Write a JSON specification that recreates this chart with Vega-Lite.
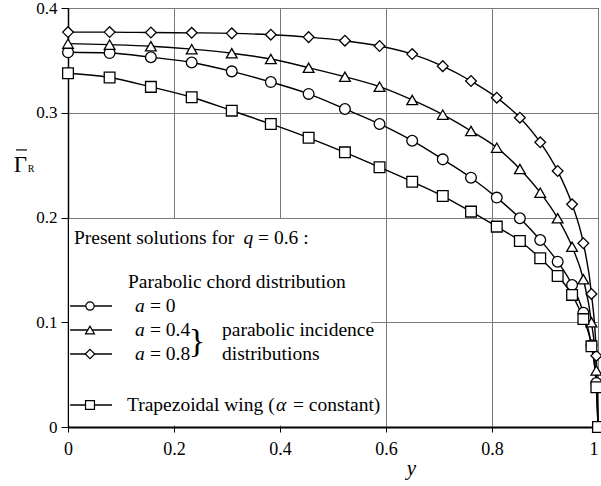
{
  "$schema": "https://vega.github.io/schema/vega-lite/v6.json",
  "width": 530,
  "height": 419,
  "autosize": {"type": "none"},
  "padding": {"left": 68, "top": 8, "right": 3, "bottom": 59},
  "background": "white",
  "config": {"view": {"stroke": "black", "strokeWidth": 1}, "font": "Liberation Serif", "text": {"font": "Liberation Serif"}},
  "datasets": {
    "curves": [
      {"series": "a0", "x": 0, "y": 0.3577}, {"series": "a0", "x": 0.0785, "y": 0.357}, {"series": "a0", "x": 0.1564, "y": 0.353}, {"series": "a0", "x": 0.2334, "y": 0.348}, {"series": "a0", "x": 0.309, "y": 0.3395}, {"series": "a0", "x": 0.3827, "y": 0.3293}, {"series": "a0", "x": 0.454, "y": 0.318}, {"series": "a0", "x": 0.5225, "y": 0.3036}, {"series": "a0", "x": 0.5878, "y": 0.2893}, {"series": "a0", "x": 0.6494, "y": 0.2733}, {"series": "a0", "x": 0.7071, "y": 0.2555}, {"series": "a0", "x": 0.7604, "y": 0.238}, {"series": "a0", "x": 0.809, "y": 0.219}, {"series": "a0", "x": 0.8526, "y": 0.1993}, {"series": "a0", "x": 0.891, "y": 0.1785}, {"series": "a0", "x": 0.9239, "y": 0.1578}, {"series": "a0", "x": 0.9511, "y": 0.1356}, {"series": "a0", "x": 0.9724, "y": 0.109}, {"series": "a0", "x": 0.9877, "y": 0.078}, {"series": "a0", "x": 0.9969, "y": 0.042}, {"series": "a0", "x": 1, "y": 0},
      {"series": "a04", "x": 0, "y": 0.366}, {"series": "a04", "x": 0.0785, "y": 0.365}, {"series": "a04", "x": 0.1564, "y": 0.3635}, {"series": "a04", "x": 0.2334, "y": 0.3607}, {"series": "a04", "x": 0.309, "y": 0.3568}, {"series": "a04", "x": 0.3827, "y": 0.3513}, {"series": "a04", "x": 0.454, "y": 0.343}, {"series": "a04", "x": 0.5225, "y": 0.3344}, {"series": "a04", "x": 0.5878, "y": 0.3249}, {"series": "a04", "x": 0.6494, "y": 0.3122}, {"series": "a04", "x": 0.7071, "y": 0.2982}, {"series": "a04", "x": 0.7604, "y": 0.2826}, {"series": "a04", "x": 0.809, "y": 0.2667}, {"series": "a04", "x": 0.8526, "y": 0.2463}, {"series": "a04", "x": 0.891, "y": 0.2237}, {"series": "a04", "x": 0.9239, "y": 0.1993}, {"series": "a04", "x": 0.9511, "y": 0.1721}, {"series": "a04", "x": 0.9724, "y": 0.141}, {"series": "a04", "x": 0.9877, "y": 0.1}, {"series": "a04", "x": 0.9969, "y": 0.054}, {"series": "a04", "x": 1, "y": 0},
      {"series": "a08", "x": 0, "y": 0.377}, {"series": "a08", "x": 0.0785, "y": 0.377}, {"series": "a08", "x": 0.1564, "y": 0.3766}, {"series": "a08", "x": 0.2334, "y": 0.3763}, {"series": "a08", "x": 0.309, "y": 0.3758}, {"series": "a08", "x": 0.3827, "y": 0.3745}, {"series": "a08", "x": 0.454, "y": 0.3722}, {"series": "a08", "x": 0.5225, "y": 0.3688}, {"series": "a08", "x": 0.5878, "y": 0.3637}, {"series": "a08", "x": 0.6494, "y": 0.356}, {"series": "a08", "x": 0.7071, "y": 0.3445}, {"series": "a08", "x": 0.7604, "y": 0.3303}, {"series": "a08", "x": 0.809, "y": 0.3144}, {"series": "a08", "x": 0.8526, "y": 0.2953}, {"series": "a08", "x": 0.891, "y": 0.2718}, {"series": "a08", "x": 0.9239, "y": 0.2444}, {"series": "a08", "x": 0.9511, "y": 0.2126}, {"series": "a08", "x": 0.9724, "y": 0.1754}, {"series": "a08", "x": 0.9877, "y": 0.127}, {"series": "a08", "x": 0.9969, "y": 0.068}, {"series": "a08", "x": 1, "y": 0},
      {"series": "trap", "x": 0, "y": 0.3377}, {"series": "trap", "x": 0.0785, "y": 0.3337}, {"series": "trap", "x": 0.1564, "y": 0.3247}, {"series": "trap", "x": 0.2334, "y": 0.3148}, {"series": "trap", "x": 0.309, "y": 0.302}, {"series": "trap", "x": 0.3827, "y": 0.2893}, {"series": "trap", "x": 0.454, "y": 0.2761}, {"series": "trap", "x": 0.5225, "y": 0.2622}, {"series": "trap", "x": 0.5878, "y": 0.248}, {"series": "trap", "x": 0.6494, "y": 0.2342}, {"series": "trap", "x": 0.7071, "y": 0.2205}, {"series": "trap", "x": 0.7604, "y": 0.2056}, {"series": "trap", "x": 0.809, "y": 0.1913}, {"series": "trap", "x": 0.8526, "y": 0.1776}, {"series": "trap", "x": 0.891, "y": 0.1611}, {"series": "trap", "x": 0.9239, "y": 0.1442}, {"series": "trap", "x": 0.9511, "y": 0.1261}, {"series": "trap", "x": 0.9724, "y": 0.103}, {"series": "trap", "x": 0.9877, "y": 0.077}, {"series": "trap", "x": 0.9969, "y": 0.038}, {"series": "trap", "x": 1, "y": 0}
    ],
    "one": [{}]
  },
  "layer": [
    {
      "data": {"name": "curves"},
      "mark": {"type": "line", "color": "black", "strokeWidth": 1.4, "interpolate": "monotone"},
      "encoding": {
        "x": {"field": "x", "type": "quantitative", "scale": {"domain": [0, 1], "nice": false},
          "axis": {"values": [0, 0.2, 0.4, 0.6, 0.8, 1], "format": "~g", "grid": true, "gridColor": "#7a7a7a", "gridWidth": 1,
            "domainColor": "black", "domainWidth": 2, "tickColor": "black", "tickSize": 5, "labelFontSize": 18, "labelFont": "Liberation Serif",
            "labelColor": "black", "labelPadding": 8, "labelFlush": false, "labelOverlap": false,
            "labelAlign": {"condition": {"test": "datum.value === 1", "value": "right"}, "value": "center"},
            "title": "y", "titleFont": "Liberation Serif", "titleFontStyle": "italic", "titleFontWeight": "normal", "titleFontSize": 21,
            "titleColor": "black", "titleX": 343, "titleY": 47, "titleBaseline": "alphabetic", "titleAlign": "center"}},
        "y": {"field": "y", "type": "quantitative", "scale": {"domain": [0, 0.4], "nice": false},
          "axis": {"values": [0, 0.1, 0.2, 0.3, 0.4], "format": "~g", "grid": true, "gridColor": "#7a7a7a", "gridWidth": 1,
            "domainColor": "black", "domainWidth": 1.5, "tickColor": "black", "tickSize": 7, "labelFontSize": 17, "labelFont": "Liberation Serif",
            "labelColor": "black", "labelPadding": 4, "labelOverlap": false,
            "title": "Γ", "titleFont": "Liberation Serif", "titleFontWeight": "normal", "titleFontSize": 23, "titleColor": "black",
            "titleAngle": 0, "titleX": -48, "titleY": 156, "titleAlign": "center", "titleBaseline": "middle"}},
        "detail": {"field": "series"}
      }
    },
    {
      "data": {"name": "curves"},
      "mark": {"type": "point", "filled": true, "fill": "white", "stroke": "black", "strokeWidth": 1.3, "size": 115, "opacity": 1},
      "encoding": {
        "x": {"field": "x", "type": "quantitative"},
        "y": {"field": "y", "type": "quantitative"},
        "shape": {"field": "series", "type": "nominal", "legend": null,
          "scale": {"domain": ["a0", "a04", "a08", "trap"], "range": ["circle", "triangle-up", "diamond", "square"]}}
      }
    },
    {
      "data": {"name": "one"},
      "mark": {"type": "rect", "fill": "white"},
      "encoding": {"x": {"datum": 0.002}, "x2": {"datum": 0.572}, "y": {"datum": 0.0015}, "y2": {"datum": 0.1985}}
    },
    {
      "data": {"name": "one"},
      "mark": {"type": "rule", "color": "black", "strokeWidth": 1.2},
      "encoding": {"x": {"datum": -0.0981}, "x2": {"datum": -0.0774}, "y": {"datum": 0.2645}}
    },
    {
      "data": {"name": "one"},
      "mark": {"type": "text", "font": "Liberation Serif", "fontSize": 10, "color": "black", "align": "center", "baseline": "middle"},
      "encoding": {"x": {"datum": -0.0698}, "y": {"datum": 0.2463}, "text": {"value": "R"}}
    },
    {
      "data": {"name": "one"},
      "mark": {"type": "rule", "color": "black", "strokeWidth": 1.3},
      "encoding": {"x": {"datum": 0.004}, "x2": {"datum": 0.083}, "y": {"datum": 0.1155}}
    },
    {
      "data": {"name": "one"},
      "mark": {"type": "rule", "color": "black", "strokeWidth": 1.3},
      "encoding": {"x": {"datum": 0.004}, "x2": {"datum": 0.083}, "y": {"datum": 0.0926}}
    },
    {
      "data": {"name": "one"},
      "mark": {"type": "rule", "color": "black", "strokeWidth": 1.3},
      "encoding": {"x": {"datum": 0.004}, "x2": {"datum": 0.083}, "y": {"datum": 0.0697}}
    },
    {
      "data": {"name": "one"},
      "mark": {"type": "rule", "color": "black", "strokeWidth": 1.3},
      "encoding": {"x": {"datum": 0.004}, "x2": {"datum": 0.083}, "y": {"datum": 0.021}}
    },
    {
      "data": {"name": "one"},
      "mark": {"type": "point", "shape": "circle", "filled": true, "fill": "white", "stroke": "black", "strokeWidth": 1.2, "size": 70, "opacity": 1},
      "encoding": {"x": {"datum": 0.0415}, "y": {"datum": 0.1155}}
    },
    {
      "data": {"name": "one"},
      "mark": {"type": "point", "shape": "triangle-up", "filled": true, "fill": "white", "stroke": "black", "strokeWidth": 1.2, "size": 80, "opacity": 1},
      "encoding": {"x": {"datum": 0.0415}, "y": {"datum": 0.0926}}
    },
    {
      "data": {"name": "one"},
      "mark": {"type": "point", "shape": "diamond", "filled": true, "fill": "white", "stroke": "black", "strokeWidth": 1.2, "size": 90, "opacity": 1},
      "encoding": {"x": {"datum": 0.0415}, "y": {"datum": 0.0697}}
    },
    {
      "data": {"name": "one"},
      "mark": {"type": "point", "shape": "square", "filled": true, "fill": "white", "stroke": "black", "strokeWidth": 1.2, "size": 80, "opacity": 1},
      "encoding": {"x": {"datum": 0.0415}, "y": {"datum": 0.021}}
    },
    {
      "data": {"name": "one"},
      "mark": {"type": "text", "font": "Liberation Serif", "fontSize": 19.5, "color": "black", "align": "left", "baseline": "middle"},
      "encoding": {"x": {"datum": 0.0113}, "y": {"datum": 0.1804}, "text": {"value": "Present solutions for"}}
    },
    {
      "data": {"name": "one"},
      "mark": {"type": "text", "font": "Liberation Serif", "fontSize": 19.5, "fontStyle": "italic", "color": "black", "align": "left", "baseline": "middle"},
      "encoding": {"x": {"datum": 0.331}, "y": {"datum": 0.1804}, "text": {"value": "q"}}
    },
    {
      "data": {"name": "one"},
      "mark": {"type": "text", "font": "Liberation Serif", "fontSize": 19.5, "color": "black", "align": "left", "baseline": "middle"},
      "encoding": {"x": {"datum": 0.3585}, "y": {"datum": 0.1804}, "text": {"value": "= 0.6 :"}}
    },
    {
      "data": {"name": "one"},
      "mark": {"type": "text", "font": "Liberation Serif", "fontSize": 19.5, "color": "black", "align": "left", "baseline": "middle"},
      "encoding": {"x": {"datum": 0.1132}, "y": {"datum": 0.1384}, "text": {"value": "Parabolic chord distribution"}}
    },
    {
      "data": {"name": "one"},
      "mark": {"type": "text", "font": "Liberation Serif", "fontSize": 19.5, "fontStyle": "italic", "color": "black", "align": "left", "baseline": "middle"},
      "encoding": {"x": {"datum": 0.1264}, "y": {"datum": 0.1155}, "text": {"value": "a"}}
    },
    {
      "data": {"name": "one"},
      "mark": {"type": "text", "font": "Liberation Serif", "fontSize": 19.5, "fontStyle": "italic", "color": "black", "align": "left", "baseline": "middle"},
      "encoding": {"x": {"datum": 0.1264}, "y": {"datum": 0.0926}, "text": {"value": "a"}}
    },
    {
      "data": {"name": "one"},
      "mark": {"type": "text", "font": "Liberation Serif", "fontSize": 19.5, "fontStyle": "italic", "color": "black", "align": "left", "baseline": "middle"},
      "encoding": {"x": {"datum": 0.1264}, "y": {"datum": 0.0697}, "text": {"value": "a"}}
    },
    {
      "data": {"name": "one"},
      "mark": {"type": "text", "font": "Liberation Serif", "fontSize": 19.5, "color": "black", "align": "left", "baseline": "middle"},
      "encoding": {"x": {"datum": 0.1547}, "y": {"datum": 0.1155}, "text": {"value": "= 0"}}
    },
    {
      "data": {"name": "one"},
      "mark": {"type": "text", "font": "Liberation Serif", "fontSize": 19.5, "color": "black", "align": "left", "baseline": "middle"},
      "encoding": {"x": {"datum": 0.1547}, "y": {"datum": 0.0926}, "text": {"value": "= 0.4"}}
    },
    {
      "data": {"name": "one"},
      "mark": {"type": "text", "font": "Liberation Serif", "fontSize": 19.5, "color": "black", "align": "left", "baseline": "middle"},
      "encoding": {"x": {"datum": 0.1547}, "y": {"datum": 0.0697}, "text": {"value": "= 0.8"}}
    },
    {
      "data": {"name": "one"},
      "mark": {"type": "text", "font": "Liberation Serif", "fontSize": 34, "color": "black", "align": "center", "baseline": "middle"},
      "encoding": {"x": {"datum": 0.2434}, "y": {"datum": 0.0811}, "text": {"value": "}"}}
    },
    {
      "data": {"name": "one"},
      "mark": {"type": "text", "font": "Liberation Serif", "fontSize": 19.5, "color": "black", "align": "left", "baseline": "middle"},
      "encoding": {"x": {"datum": 0.2906}, "y": {"datum": 0.0926}, "text": {"value": "parabolic incidence"}}
    },
    {
      "data": {"name": "one"},
      "mark": {"type": "text", "font": "Liberation Serif", "fontSize": 19.5, "color": "black", "align": "left", "baseline": "middle"},
      "encoding": {"x": {"datum": 0.2906}, "y": {"datum": 0.0697}, "text": {"value": "distributions"}}
    },
    {
      "data": {"name": "one"},
      "mark": {"type": "text", "font": "Liberation Serif", "fontSize": 19.5, "color": "black", "align": "left", "baseline": "middle"},
      "encoding": {"x": {"datum": 0.1113}, "y": {"datum": 0.021}, "text": {"value": "Trapezoidal wing ("}}
    },
    {
      "data": {"name": "one"},
      "mark": {"type": "text", "font": "Liberation Serif", "fontSize": 19.5, "fontStyle": "italic", "color": "black", "align": "left", "baseline": "middle"},
      "encoding": {"x": {"datum": 0.3925}, "y": {"datum": 0.021}, "text": {"value": "α"}}
    },
    {
      "data": {"name": "one"},
      "mark": {"type": "text", "font": "Liberation Serif", "fontSize": 19.5, "color": "black", "align": "left", "baseline": "middle"},
      "encoding": {"x": {"datum": 0.4245}, "y": {"datum": 0.021}, "text": {"value": "= constant)"}}
    }
  ]
}
